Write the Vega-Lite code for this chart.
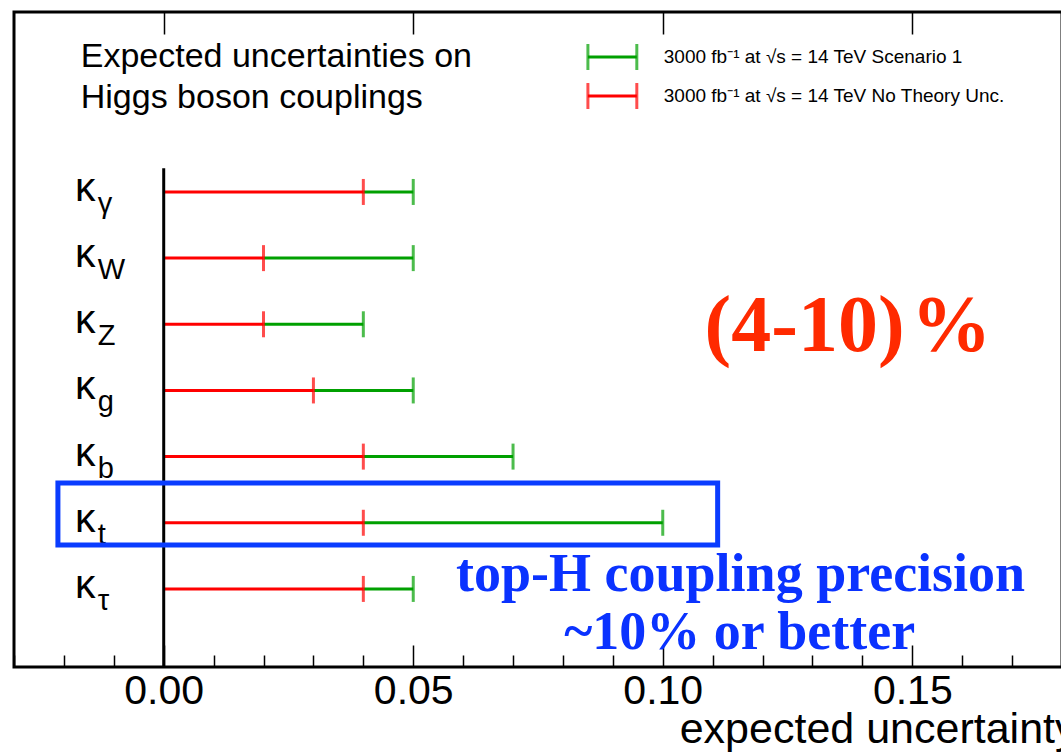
{
  "$schema": "https://vega.github.io/schema/vega-lite/v6.json",
  "autosize": "none",
  "width": 1048,
  "height": 655,
  "padding": {"left": 14, "top": 12, "right": 0, "bottom": 85},
  "background": "white",
  "config": {
    "view": {"stroke": "black", "strokeWidth": 3},
    "font": "Liberation Sans"
  },
  "datasets": {
    "rows": [
      {"k": "γ", "pos": 7, "zero": 0, "red": 0.04, "green": 0.05},
      {"k": "W", "pos": 6, "zero": 0, "red": 0.02, "green": 0.05},
      {"k": "Z", "pos": 5, "zero": 0, "red": 0.02, "green": 0.04},
      {"k": "g", "pos": 4, "zero": 0, "red": 0.03, "green": 0.05},
      {"k": "b", "pos": 3, "zero": 0, "red": 0.04, "green": 0.07},
      {"k": "t", "pos": 2, "zero": 0, "red": 0.04, "green": 0.10},
      {"k": "τ", "pos": 1, "zero": 0, "red": 0.04, "green": 0.05}
    ],
    "legend": [
      {"label": "3000 fb⁻¹ at  √s = 14 TeV Scenario 1", "x0": 0.085, "x1": 0.0948, "y": 9.04, "c": "green"},
      {"label": "3000 fb⁻¹ at  √s = 14 TeV No Theory Unc.", "x0": 0.085, "x1": 0.0948, "y": 8.45, "c": "red"}
    ]
  },
  "layer": [
    {
      "data": {"name": "rows"},
      "mark": {"type": "rule", "color": "#00a000", "strokeWidth": 3},
      "encoding": {
        "x": {"field": "red", "type": "quantitative",
          "scale": {"domain": [-0.03, 0.18], "nice": false, "zero": false},
          "axis": {
            "orient": "bottom",
            "values": [-0.03, -0.02, -0.01, 0, 0.01, 0.02, 0.03, 0.04, 0.05, 0.06, 0.07, 0.08, 0.09, 0.1, 0.11, 0.12, 0.13, 0.14, 0.15, 0.16, 0.17, 0.18],
            "labelExpr": "round(datum.value*100) % 5 == 0 ? format(datum.value, '.2f') : ''",
            "tickSize": {"condition": {"test": "round(datum.value*100) % 5 == 0", "value": -22}, "value": -12},
            "tickColor": "black",
            "tickWidth": 1.5,
            "domain": false,
            "grid": false,
            "labelFontSize": 41,
            "labelColor": "black",
            "labelFont": "Liberation Sans",
            "labelPadding": 26,
            "labelBaseline": "top",
            "title": "expected uncertainty",
            "titleFont": "Liberation Sans",
            "titleFontSize": 43,
            "titleFontWeight": "normal",
            "titleColor": "black",
            "titleAnchor": "end",
            "titleX": 1062,
            "titlePadding": -3
          }
        },
        "x2": {"field": "green"},
        "y": {"field": "pos", "type": "quantitative", "scale": {"domain": [-0.18, 9.72], "nice": false, "zero": false}, "axis": null}
      }
    },
    {
      "data": {"name": "rows"},
      "mark": {"type": "rule", "color": "#ff0000", "strokeWidth": 3},
      "encoding": {
        "x": {"field": "zero", "type": "quantitative",
          "axis": {"orient": "top", "values": [0, 0.05, 0.1, 0.15], "labels": false, "tickSize": -22, "tickColor": "black", "tickWidth": 1.5, "domain": false, "grid": false, "title": null}},
        "x2": {"field": "red"},
        "y": {"field": "pos", "type": "quantitative", "axis": null}
      }
    },
    {
      "data": {"name": "rows"},
      "mark": {"type": "tick", "color": "#00a000", "thickness": 3, "size": 26, "orient": "vertical"},
      "encoding": {
        "x": {"field": "green", "type": "quantitative", "axis": null},
        "y": {"field": "pos", "type": "quantitative", "axis": null}
      }
    },
    {
      "data": {"name": "rows"},
      "mark": {"type": "tick", "color": "#ff0000", "thickness": 3, "size": 26, "orient": "vertical"},
      "encoding": {
        "x": {"field": "red", "type": "quantitative", "axis": null},
        "y": {"field": "pos", "type": "quantitative", "axis": null}
      }
    },
    {
      "data": {"values": [{"x": 0, "y0": 7.36, "y1": -0.18}]},
      "mark": {"type": "rule", "color": "black", "strokeWidth": 3},
      "encoding": {
        "x": {"field": "x", "type": "quantitative", "axis": null},
        "y": {"field": "y0", "type": "quantitative", "axis": null},
        "y2": {"field": "y1"}
      }
    },
    {
      "data": {"name": "rows"},
      "mark": {"type": "text", "text": "κ", "fontSize": 41, "align": "left", "baseline": "alphabetic", "dy": 9, "color": "black", "font": "Liberation Sans"},
      "encoding": {
        "x": {"datum": -0.0178, "type": "quantitative", "axis": null},
        "y": {"field": "pos", "type": "quantitative", "axis": null}
      }
    },
    {
      "data": {"name": "rows"},
      "mark": {"type": "text", "fontSize": 29, "align": "left", "baseline": "alphabetic", "dy": 21, "color": "black", "font": "Liberation Sans"},
      "encoding": {
        "x": {"datum": -0.0132, "type": "quantitative", "axis": null},
        "y": {"field": "pos", "type": "quantitative", "axis": null},
        "text": {"field": "k", "type": "nominal"}
      }
    },
    {
      "data": {"name": "legend"},
      "mark": {"type": "rule", "strokeWidth": 3},
      "encoding": {
        "x": {"field": "x0", "type": "quantitative", "axis": null},
        "x2": {"field": "x1"},
        "y": {"field": "y", "type": "quantitative", "axis": null},
        "color": {"field": "c", "type": "nominal", "scale": {"domain": ["green", "red"], "range": ["#00a000", "#ff0000"]}, "legend": null}
      }
    },
    {
      "data": {"name": "legend"},
      "mark": {"type": "tick", "thickness": 3, "size": 26, "orient": "vertical"},
      "encoding": {
        "x": {"field": "x0", "type": "quantitative", "axis": null},
        "y": {"field": "y", "type": "quantitative", "axis": null},
        "color": {"field": "c", "type": "nominal", "legend": null}
      }
    },
    {
      "data": {"name": "legend"},
      "mark": {"type": "tick", "thickness": 3, "size": 26, "orient": "vertical"},
      "encoding": {
        "x": {"field": "x1", "type": "quantitative", "axis": null},
        "y": {"field": "y", "type": "quantitative", "axis": null},
        "color": {"field": "c", "type": "nominal", "legend": null}
      }
    },
    {
      "data": {"name": "legend"},
      "mark": {"type": "text", "align": "left", "baseline": "middle", "fontSize": 19, "color": "black", "font": "Liberation Sans"},
      "encoding": {
        "x": {"datum": 0.1002, "type": "quantitative", "axis": null},
        "y": {"field": "y", "type": "quantitative", "axis": null},
        "text": {"field": "label", "type": "nominal"}
      }
    },
    {
      "data": {"values": [
        {"t": "Expected uncertainties on", "x": -0.01663, "y": 9.04},
        {"t": "Higgs boson couplings", "x": -0.01663, "y": 8.42}
      ]},
      "mark": {"type": "text", "align": "left", "baseline": "middle", "fontSize": 34, "color": "black", "font": "Liberation Sans"},
      "encoding": {
        "x": {"field": "x", "type": "quantitative", "axis": null},
        "y": {"field": "y", "type": "quantitative", "axis": null},
        "text": {"field": "t", "type": "nominal"}
      }
    },
    {
      "data": {"values": [{"t": "(4-10)\u200a%", "x": 0.1371, "y": 4.96}]},
      "mark": {"type": "text", "align": "center", "baseline": "middle", "fontSize": 80, "fontWeight": "bold", "color": "#ff2a00", "font": "Liberation Serif"},
      "encoding": {
        "x": {"field": "x", "type": "quantitative", "axis": null},
        "y": {"field": "y", "type": "quantitative", "axis": null},
        "text": {"field": "t", "type": "nominal"}
      }
    },
    {
      "data": {"values": [
        {"t": "top-H coupling precision", "x": 0.1156, "y": 1.21},
        {"t": "~10% or better", "x": 0.1154, "y": 0.335}
      ]},
      "mark": {"type": "text", "align": "center", "baseline": "middle", "fontSize": 54, "fontWeight": "bold", "color": "#0a32ff", "font": "Liberation Serif"},
      "encoding": {
        "x": {"field": "x", "type": "quantitative", "axis": null},
        "y": {"field": "y", "type": "quantitative", "axis": null},
        "text": {"field": "t", "type": "nominal"}
      }
    },
    {
      "data": {"values": [{"x0": -0.0212, "x1": 0.111, "y0": 2.6, "y1": 1.665}]},
      "mark": {"type": "rect", "fillOpacity": 0, "stroke": "#0a3cff", "strokeWidth": 5},
      "encoding": {
        "x": {"field": "x0", "type": "quantitative", "axis": null},
        "x2": {"field": "x1"},
        "y": {"field": "y0", "type": "quantitative", "axis": null},
        "y2": {"field": "y1"}
      }
    }
  ]
}
